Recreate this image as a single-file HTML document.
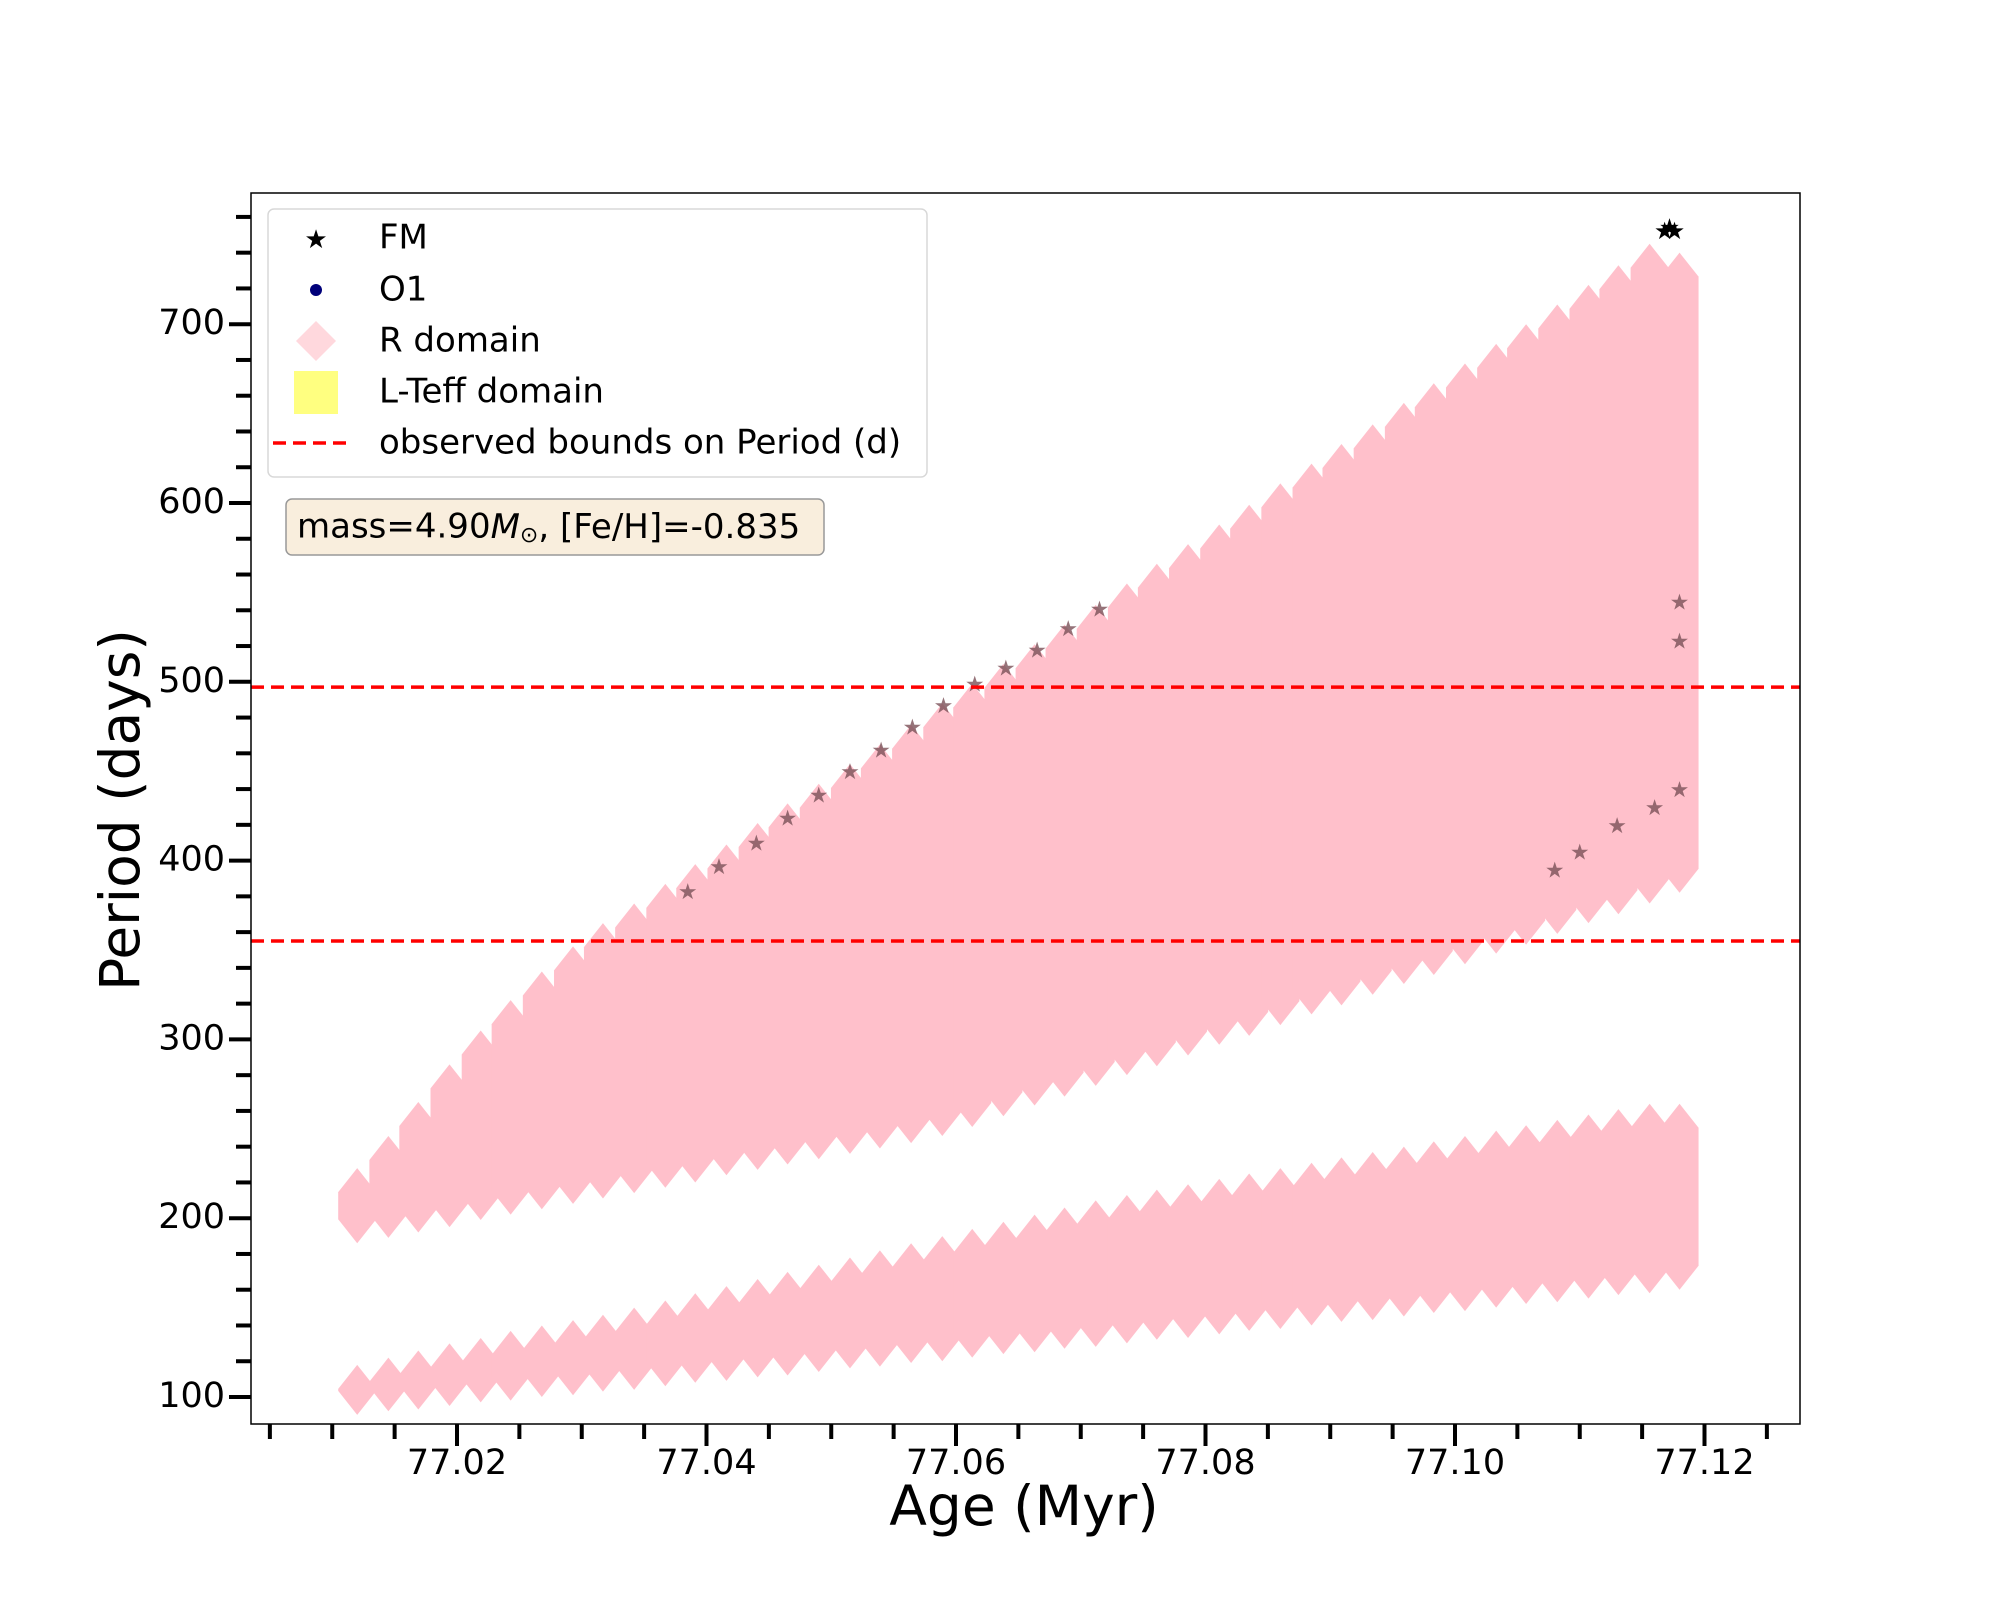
<!DOCTYPE html>
<html><head><meta charset="utf-8"><style>
html,body{margin:0;padding:0;background:#fff;}
svg{display:block;font-family:"DejaVu Sans","Liberation Sans",sans-serif;}
</style></head><body>
<svg id="chart" width="2000" height="1600" viewBox="0 0 2000 1600">
<rect x="0" y="0" width="2000" height="1600" fill="#fff"/>
<g id="plot"></g>
<rect x="251" y="193" width="1549" height="1231" fill="none" stroke="#000" stroke-width="1.5"/>
<g id="axes"></g>
<text x="124" y="810" font-size="55" text-anchor="middle" dominant-baseline="middle" transform="rotate(-90 124 810)">Period (days)</text>
<text x="1024" y="1510" font-size="55" text-anchor="middle" dominant-baseline="middle">Age (Myr)</text>
<g>
<rect x="268" y="209" width="659" height="268" rx="6" fill="#fff" fill-opacity="0.85" stroke="#d8d8d8" stroke-width="1.5"/>
<text x="316" y="248" font-size="26" text-anchor="middle" fill="#000">★</text>
<text x="379" y="239" font-size="34" dominant-baseline="middle">FM</text>
<circle cx="316" cy="290" r="6" fill="#00007a"/>
<text x="379" y="291" font-size="34" dominant-baseline="middle">O1</text>
<polygon points="316,321 336,341 316,361 296,341" fill="#ffd8dd"/>
<text x="379" y="342" font-size="34" dominant-baseline="middle">R domain</text>
<rect x="294" y="371" width="44" height="43" fill="#ffff80"/>
<text x="379" y="393" font-size="34" dominant-baseline="middle">L-Teff domain</text>
<line x1="273" y1="443" x2="352" y2="443" stroke="#ff0000" stroke-width="3.5" stroke-dasharray="13,7"/>
<text x="379" y="444" font-size="34" dominant-baseline="middle">observed bounds on Period (d)</text>
</g>
<g>
<rect x="286" y="499" width="538" height="56" rx="6" fill="#f9eedd" stroke="#999" stroke-width="1.5"/>
<text x="297" y="528" font-size="34" dominant-baseline="middle">mass=4.90<tspan font-style="italic">M</tspan><tspan font-size="22" dy="8">⊙</tspan><tspan dy="-8">, [Fe/H]=-0.835</tspan></text>
</g>
</svg>
<script>
const ages = [77.0120,77.0145,77.0169,77.0194,77.0219,77.0243,77.0268,77.0293,77.0317,77.0342,77.0367,77.0391,77.0416,77.0441,77.0465,77.0490,77.0515,77.0539,77.0564,77.0589,77.0613,77.0638,77.0663,77.0687,77.0712,77.0737,77.0761,77.0786,77.0811,77.0835,77.0860,77.0885,77.0909,77.0934,77.0959,77.0983,77.1008,77.1033,77.1057,77.1082,77.1107,77.1131,77.1156,77.1180];
const upperMin = [186,189,192,195,199,202,205,208,211,214,217,220,224,227,230,233,236,239,242,246,251,257,263,268,274,280,285,291,297,302,308,314,319,325,331,336,342,348,353,359,365,370,376,382];
const upperMax = [228,246,265,286,305,322,338,352,365,376,387,398,409,421,432,443,454,465,476,488,499,510,521,532,543,555,566,577,588,599,611,622,633,644,656,667,678,689,700,711,722,733,745,740];
const lowerMin = [90,92,93,95,97,98,100,101,103,104,106,108,109,111,112,114,116,117,119,120,122,124,125,127,128,130,132,133,135,137,138,140,142,143,145,147,148,150,152,153,155,157,158,160];
const lowerMax = [118,122,126,130,133,137,140,143,146,150,154,158,162,166,170,174,178,182,186,190,194,198,202,206,210,213,216,219,222,225,228,231,234,237,240,243,246,249,252,255,258,261,264,264];
const starAges = [77.0385,77.0410,77.0440,77.0465,77.0490,77.0515,77.0540,77.0565,77.0590,77.0615,77.0640,77.0665,77.0690,77.0715,77.1180,77.1180,77.1180,77.1160,77.1130,77.1100,77.1080];
const starPeriods = [383,397,410,424,437,450,462,475,487,499,508,518,530,541,545,523,440,430,420,405,395];
const fmTopAges = [77.1168,77.1172,77.1176];
const fmTopPeriods = [752,754,752];
const boundsPeriods = [497,355];
const xTicks = [77.02,77.04,77.06,77.08,77.10,77.12];
const xTickLabels = ["77.02","77.04","77.06","77.08","77.10","77.12"];
const yTicks = [100,200,300,400,500,600,700];
const yTickLabels = ["100","200","300","400","500","600","700"];

const NS="http://www.w3.org/2000/svg";
const L=251,R=1800,T=193,B=1424;
const x0=77.02,xPx0=457,xPer=249.5/0.02;
const yPx100=1397,yPer=178.8/100;
function xs(a){return xPx0+(a-x0)*xPer;}
function ys(p){return yPx100-(p-100)*yPer;}
function mk(tag,attrs,parent){const e=document.createElementNS(NS,tag);for(const k in attrs)e.setAttribute(k,attrs[k]);parent.appendChild(e);return e;}
const plot=document.getElementById('plot');
const axes=document.getElementById('axes');
const clip=mk('clipPath',{id:'clp'},mk('defs',{},plot));
mk('rect',{x:L,y:T,width:R-L,height:B-T},clip);
plot.setAttribute('clip-path','url(#clp)');
const hw=19,hh=24;
function col(a,lo,hi,name){
  const x=xs(a),yt=ys(hi),yb=ys(lo);
  const pts=[[x,yt],[x+hw,yt+hh],[x+hw,yb-hh],[x,yb],[x-hw,yb-hh],[x-hw,yt+hh]].map(p=>p.join(',')).join(' ');
  const p=mk('polygon',{points:pts,fill:'#ffc0cb'},plot);
  
  
}
for(let i=0;i<ages.length;i++){
  col(ages[i],upperMin[i],upperMax[i],'r-domain-upper-column');
  col(ages[i],lowerMin[i],lowerMax[i],'r-domain-lower-column');
}
for(let i=0;i<starAges.length;i++){
  const t=mk('text',{x:xs(starAges[i]),y:ys(starPeriods[i])+8,'font-size':22,'text-anchor':'middle',fill:'#7a5058','fill-opacity':0.8},plot);
  t.textContent='★';
  
  
}
for(let i=0;i<fmTopAges.length;i++){
  const t=mk('text',{x:xs(fmTopAges[i]),y:ys(fmTopPeriods[i])+8,'font-size':24,'text-anchor':'middle',fill:'#000'},plot);
  t.textContent='★';
  
  
}
for(const b of boundsPeriods){
  const l=mk('line',{x1:L,x2:R,y1:ys(b),y2:ys(b),stroke:'#ff0000','stroke-width':3.5,'stroke-dasharray':'13,7'},plot);
  
  
}
for(let v=77.005;v<=77.1251;v+=0.005){
  const isMaj=xTicks.some(t=>Math.abs(t-v)<1e-6);
  const x=xs(v);
  const tk=mk('line',{x1:x,x2:x,y1:B,y2:B+(isMaj?22:15),stroke:'#000','stroke-width':4},axes);
  
  
}
xTicks.forEach((v,i)=>{
  const t=mk('text',{x:xs(v),y:1464,'font-size':35,'text-anchor':'middle','dominant-baseline':'middle'},axes);
  t.textContent=xTickLabels[i];
  
  
});
for(let v=100;v<=760;v+=20){
  const isMaj=yTicks.includes(v);
  const y=ys(v);
  const tk=mk('line',{x1:L,x2:L-(isMaj?22:15),y1:y,y2:y,stroke:'#000','stroke-width':4},axes);
  
  
}
yTicks.forEach((v,i)=>{
  const t=mk('text',{x:225,y:ys(v),'font-size':35,'text-anchor':'end','dominant-baseline':'middle'},axes);
  t.textContent=yTickLabels[i];
  
  
});
</script>
</body></html>
